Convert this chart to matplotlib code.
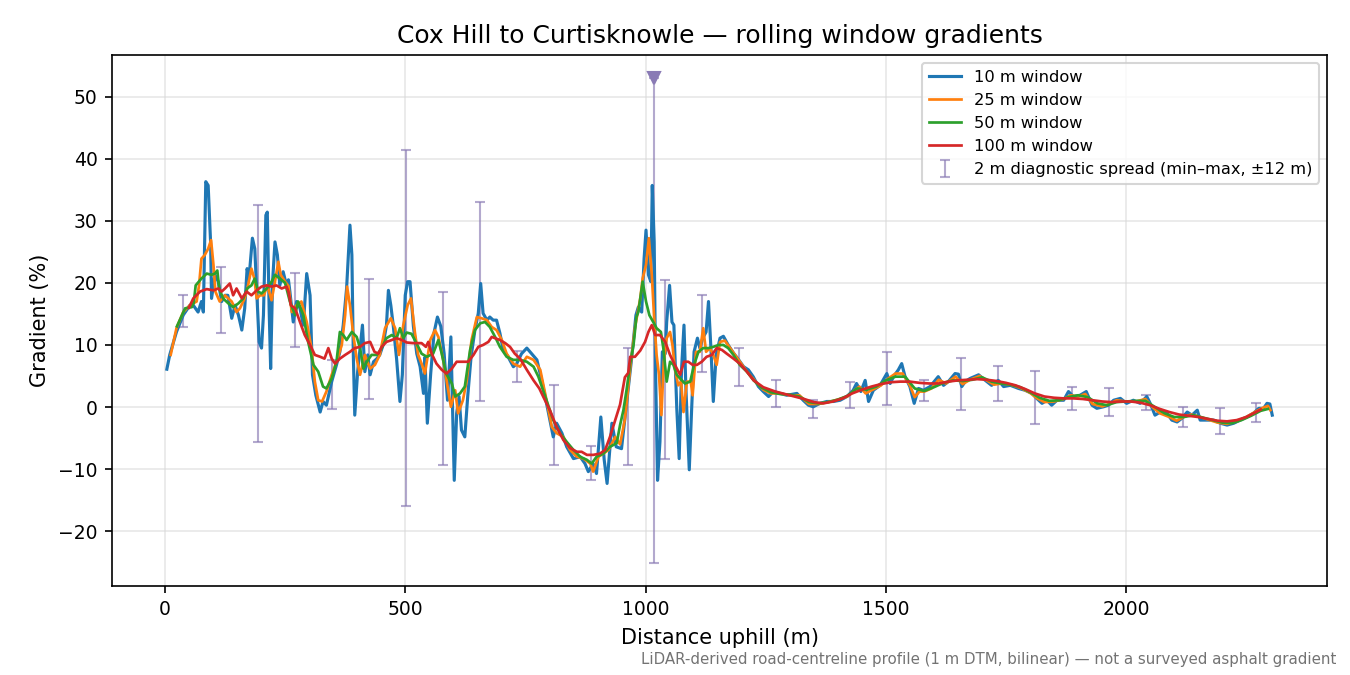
# Rolling-window gradient profile, Cox Hill -> Curtisknowle

import numpy as np
import matplotlib.pyplot as plt

# 10 m window (distance m, gradient %)
d10 = [4, 10, 24, 38, 52, 59, 69, 76, 80, 85, 90, 95, 97, 104, 111, 118, 125, 131, 139, 146,
       153, 160, 166, 171, 175, 182, 187, 191, 196, 201, 205, 210, 213, 217, 220, 224, 229, 234,
       239, 246, 253, 257, 260, 267, 274, 281, 288, 295, 302, 307, 314, 323, 329, 336, 347, 357,
       364, 371, 378, 385, 389, 392, 395, 401, 406, 411, 416, 422, 427, 434, 441, 447, 454, 461,
       465, 470, 475, 482, 489, 494, 500, 505, 510, 517, 524, 531, 538, 541, 546, 553, 560, 567,
       574, 581, 588, 595, 599, 602, 607, 612, 617, 624, 630, 637, 645, 652, 657, 662, 670, 676,
       683, 690, 697, 704, 714, 725, 732, 742, 753, 763, 774, 784, 794, 805, 808, 815, 826, 836,
       850, 864, 874, 881, 891, 898, 907, 914, 920, 930, 939, 950, 961, 971, 980, 985, 992, 997,
       1001, 1006, 1011, 1014, 1018, 1021, 1025, 1030, 1035, 1041, 1044, 1050, 1055, 1059, 1065,
       1070, 1075, 1080, 1084, 1091, 1096, 1101, 1108, 1113, 1119, 1126, 1131, 1136, 1141, 1147,
       1155, 1162, 1172, 1183, 1193, 1204, 1214, 1224, 1235, 1245, 1256, 1266, 1280, 1294, 1315,
       1328, 1339, 1349, 1363, 1377, 1391, 1405, 1419, 1432, 1439, 1448, 1457, 1464, 1474, 1488,
       1502, 1509, 1516, 1526, 1533, 1540, 1550, 1559, 1568, 1578, 1592, 1609, 1620, 1630, 1644,
       1651, 1658, 1665, 1675, 1693, 1707, 1720, 1734, 1745, 1759, 1776, 1790, 1804, 1814, 1825,
       1835, 1845, 1856, 1870, 1880, 1890, 1904, 1917, 1929, 1939, 1953, 1963, 1974, 1988, 2001,
       2015, 2029, 2043, 2050, 2060, 2071, 2085, 2095, 2106, 2116, 2127, 2137, 2148, 2154, 2168,
       2182, 2196, 2210, 2224, 2237, 2251, 2265, 2276, 2286, 2293, 2299, 2304]
g10 = [6.1, 8.4, 12.1, 14.8, 16.4, 16.4, 15.3, 17, 15.3, 36.3, 35.7, 26.6, 17.5, 21.3, 20.2, 17,
       18, 18, 14.3, 16.4, 14.8, 12.4, 15.9, 22.3, 20.8, 27.2, 25.5, 18.6, 10.5, 9.5, 14.8, 30.9,
       31.4, 15.3, 6.2, 20.2, 26.6, 24.5, 19.6, 21.8, 19.6, 20.5, 18.6, 13.7, 17, 15.9, 13.2, 21.5,
       18, 5.2, 1.9, -0.8, 0.9, 0.3, 4.1, 6.8, 8.9, 13.2, 19.1, 29.3, 24.5, 8.4, -1.3, 5.7, 9.5,
       13.2, 5.7, 8.4, 5.2, 7.3, 7.8, 8.4, 10, 13.2, 18.8, 16.4, 13.2, 7.8, 0.9, 5.2, 18, 20.2,
       20.2, 13, 8.6, 6.5, 2.2, 8, -2.6, 5.4, 12, 14.5, 13, 8.6, 1.1, 11.3, -2.1, -11.8, -1, 1.7,
       -3.7, -4.8, 1.7, 8.1, 12.4, 15.1, 19.9, 15.1, 14, 14.5, 14, 14, 11.9, 9.2, 8.1, 6.5, 7, 8.6,
       9.5, 8.6, 7.6, 4.3, 0.6, -3.7, -4.8, -2.6, -4.2, -6.4, -8.3, -8, -9.1, -10.4, -9.1, -10.7,
       -1.6, -8.5, -12.3, -2.6, -6.4, -6.7, 0.9, 7.8, 14.8, 16.1, 15.3, 23.9, 28.5, 21.3, 20.2,
       35.7, 26.6, 5.2, -11.8, -5.6, 8.9, 8.6, 13.7, 19.6, 13.7, 13.2, -0.2, -8.3, 6.2, 13.2, 3,
       -10.1, -0.2, 8.9, 11.1, 9.5, 11.1, 12.1, 17, 9.5, 0.9, 8.4, 11.1, 11.4, 10, 8.7, 7.7, 6.5,
       6, 4.9, 3.3, 2.5, 1.7, 2.5, 2.2, 1.9, 2.2, 1.1, 0.3, 0.05, 0.6, 0.9, 0.9, 1.1, 1.7, 2.7,
       3.8, 2.5, 4.3, 0.9, 2.7, 3.5, 5.4, 3.8, 4.9, 6, 7, 4.9, 3.3, 0.6, 3, 2.7, 3.3, 4.9, 3.5,
       4.1, 5.4, 5.3, 3.3, 4.1, 4.6, 5.2, 4.3, 3.5, 4.3, 3.3, 3.5, 3, 2.7, 2.2, 1.4, 0.6, 1.1, 0.3,
       1.1, 1.1, 2.5, 1.7, 1.9, 2.5, 0.3, -0.2, 0.05, 0.3, 1.1, 1.4, 0.6, 1.1, 0.6, 1.7, 0.6,
       -1.3, -0.8, -1, -2.1, -2.4, -1.8, -0.8, -1.3, -0.5, -2.1, -2.1, -2.1, -2.6, -2.9, -2.6,
       -2.1, -1.6, -1, -0.2, -0.2, 0.6, 0.5, -1.3]

# 25 m window
d25 = [12, 24, 38, 52, 66, 71, 76, 83, 90, 96, 101, 105, 114, 125, 139, 149, 156, 166, 173, 180,
       186, 191, 198, 206, 213, 222, 229, 236, 241, 250, 257, 264, 274, 284, 295, 305, 312, 319,
       327, 336, 347, 357, 368, 375, 379, 385, 392, 399, 406, 416, 427, 437, 447, 458, 470, 479,
       487, 496, 505, 512, 520, 527, 534, 541, 552, 562, 569, 579, 586, 595, 604, 610, 620, 628,
       638, 649, 659, 670, 680, 690, 701, 711, 725, 739, 753, 767, 781, 794, 805, 815, 829, 843,
       857, 871, 885, 891, 902, 912, 923, 937, 947, 957, 968, 978, 989, 994, 1001, 1007, 1013,
       1018, 1023, 1028, 1033, 1038, 1044, 1051, 1056, 1061, 1068, 1074, 1079, 1086, 1094, 1098,
       1105, 1113, 1120, 1126, 1134, 1141, 1148, 1155, 1165, 1176, 1186, 1196, 1211, 1230, 1245,
       1260, 1280, 1300, 1320, 1340, 1360, 1380, 1400, 1420, 1435, 1445, 1458, 1470, 1490, 1505,
       1520, 1535, 1550, 1560, 1570, 1580, 1595, 1610, 1625, 1645, 1660, 1675, 1695, 1710, 1725,
       1740, 1760, 1780, 1800, 1815, 1830, 1850, 1870, 1885, 1900, 1915, 1930, 1950, 1965, 1980,
       2000, 2020, 2040, 2055, 2070, 2090, 2105, 2120, 2135, 2150, 2170, 2190, 2210, 2230, 2250,
       2270, 2285, 2295, 2300]
g25 = [8.4, 12.7, 15.3, 16.4, 17, 19.6, 23.9, 24.5, 25.5, 26.9, 22.9, 18.6, 17, 18, 17, 15.3,
       15.9, 17.5, 19.6, 22.3, 20.7, 17.5, 18, 18, 19.6, 17.2, 20.2, 23.4, 21.3, 20.2, 19.5, 15.3,
       16.4, 17, 13.7, 9.5, 4.1, 1.1, 0.9, 2.5, 5.2, 7.3, 10, 14.8, 19.4, 16.4, 11.6, 7.8, 5.2,
       8.4, 6.2, 6.8, 8.4, 12.7, 14.3, 12.7, 8.4, 13.2, 16.4, 17.5, 12.1, 8.4, 7, 5.4, 10.8, 12.4,
       11.3, 7.6, 4.3, 0.05, 2.7, -1, 1.1, 4.3, 10.8, 14.5, 14.3, 14, 12.9, 12.4, 10.8, 8.6, 7,
       6.5, 8.1, 7.6, 6, 1.1, -3.2, -4.2, -4.8, -6.9, -8, -8.3, -9.1, -10.4, -8, -7.5, -6.9, -4.8,
       -6, -2, 6.2, 12.8, 17.5, 20.7, 22.9, 27.2, 21.3, 14.3, 8.4, 5.2, -1.3, 7.3, 11.1, 12.1, 10,
       6.2, 3.5, 4.1, -0.8, 4.1, 4.1, 1.9, 8.9, 8.9, 12.7, 8.9, 9.5, 8.4, 6.8, 10.5, 10.7, 9.5,
       8.4, 7.3, 5.7, 4, 2.8, 2.2, 2.2, 1.9, 1.9, 0.5, 0.5, 0.8, 1.2, 1.7, 2.7, 3.3, 2.2, 2.7,
       3.5, 4.6, 5.4, 5.4, 3.5, 1.6, 2.5, 2.5, 3, 4.4, 3.8, 4.9, 3.7, 4.4, 5, 4.3, 3.6, 3.8, 3.6,
       3.1, 2.3, 1.4, 0.8, 0.9, 1.3, 1.9, 1.7, 2.1, 0.5, 0.1, 0.5, 1.1, 0.9, 0.9, 1.3, 0, -1, -1.6,
       -2.2, -1.6, -1.2, -1.5, -2, -2.5, -2.7, -2.3, -1.6, -0.7, -0.1, 0.2, -0.5]

# 50 m window
d50 = [25, 42, 56, 60, 64, 76, 87, 97, 104, 109, 113, 121, 132, 142, 153, 163, 171, 180, 187,
       194, 201, 212, 222, 229, 239, 250, 260, 271, 277, 288, 298, 309, 319, 329, 336, 347, 357,
       364, 371, 378, 389, 399, 406, 413, 420, 430, 441, 451, 461, 472, 482, 489, 496, 503, 513,
       524, 534, 545, 558, 569, 576, 585, 597, 604, 614, 624, 635, 645, 656, 666, 676, 687, 697,
       711, 725, 739, 753, 767, 777, 794, 808, 822, 836, 850, 864, 878, 888, 898, 912, 926, 940,
       947, 954, 961, 968, 975, 981, 985, 994, 1001, 1008, 1016, 1023, 1032, 1037, 1044, 1051,
       1058, 1065, 1072, 1082, 1093, 1101, 1110, 1120, 1131, 1141, 1152, 1162, 1172, 1183, 1196,
       1211, 1225, 1240, 1260, 1280, 1300, 1320, 1340, 1360, 1380, 1400, 1420, 1440, 1460, 1480,
       1500, 1520, 1540, 1560, 1580, 1600, 1620, 1640, 1660, 1680, 1700, 1720, 1740, 1760, 1780,
       1800, 1820, 1840, 1860, 1880, 1900, 1920, 1940, 1960, 1980, 2000, 2020, 2040, 2060, 2080,
       2100, 2120, 2140, 2160, 2180, 2200, 2220, 2240, 2260, 2280, 2295]
g50 = [13, 15.9, 16.1, 16.8, 19.6, 20.7, 21.5, 21.3, 21.5, 22, 19.1, 17.5, 16.7, 16.1, 16.7,
       17.5, 19.1, 19.6, 20.7, 18.6, 18.3, 19.1, 20.2, 21.3, 20.7, 20, 17, 14.8, 17, 14.8, 10.5,
       6.8, 5.7, 3.3, 3, 4.6, 7.3, 12.1, 11.6, 10.8, 12.1, 11.3, 9.5, 6.2, 7.3, 8.4, 8.4, 9.5,
       11.1, 11.6, 11.1, 12.7, 11.1, 12, 11.8, 10.2, 8.6, 8.1, 8.6, 10.8, 8.6, 5.4, 3.8, 1.7, 2.2,
       3.3, 9.2, 12.4, 13.5, 13.7, 12.9, 11.3, 9.7, 8.1, 7.6, 7.6, 7.3, 6.5, 4.9, 1.1, -2.1, -4.2,
       -5.6, -6.9, -8, -8.5, -9.1, -8, -7.5, -6.4, -5.8, -2.9, -0.5, 3, 7, 10, 14.5, 15.3, 20.2,
       17, 14.8, 13.7, 12.7, 12.1, 9.5, 4.1, 7.3, 6.8, 5.2, 4.6, 3.8, 4.1, 6.8, 8.9, 9.5, 9.5,
       9.7, 10, 10, 9.5, 8.4, 6.8, 5.7, 4.3, 3.2, 2.4, 2.1, 2, 1.7, 0.8, 0.6, 0.8, 1.2, 1.8, 3,
       2.8, 3.3, 4.3, 4.9, 4.9, 3, 2.6, 3.2, 3.9, 4.3, 4.2, 4.4, 4.8, 4.1, 3.8, 3.6, 3.2, 2.4,
       1.5, 1, 1.1, 1.6, 1.9, 1.6, 0.6, 0.3, 0.8, 0.9, 1, 1, 0, -1, -1.6, -1.6, -1.3, -1.7, -2.1,
       -2.5, -2.6, -2.1, -1.4, -0.6, -0.3]

# 100 m window
d100 = [50, 59, 73, 87, 101, 111, 118, 125, 135, 142, 149, 160, 170, 180, 191, 201, 212, 222,
        232, 243, 253, 257, 262, 271, 281, 291, 302, 312, 323, 332, 340, 347, 354, 364, 375, 385,
        395, 406, 416, 427, 436, 444, 451, 461, 472, 482, 493, 503, 517, 534, 543, 548, 555, 565,
        576, 586, 597, 607, 617, 631, 642, 652, 662, 673, 680, 687, 697, 708, 718, 728, 739, 753,
        767, 779, 787, 801, 815, 829, 843, 857, 867, 878, 891, 905, 916, 926, 937, 947, 957, 964,
        968, 978, 989, 999, 1006, 1013, 1020, 1030, 1041, 1051, 1061, 1072, 1080, 1089, 1098,
        1107, 1117, 1127, 1138, 1148, 1159, 1169, 1183, 1196, 1211, 1225, 1245, 1270, 1290, 1310,
        1330, 1350, 1370, 1390, 1410, 1430, 1450, 1470, 1490, 1510, 1530, 1550, 1570, 1590, 1610,
        1630, 1650, 1670, 1690, 1710, 1730, 1750, 1770, 1790, 1810, 1830, 1850, 1870, 1890, 1910,
        1930, 1950, 1970, 1990, 2010, 2030, 2050, 2070, 2090, 2110, 2130, 2150, 2170, 2190, 2210,
        2230, 2250, 2265, 2280]
g100 = [16, 17.5, 18.6, 19, 18.8, 19.1, 18.6, 19.1, 19.9, 18, 19.1, 17.5, 18.6, 18, 18.8, 19.4,
        19.6, 19.4, 19.6, 19.1, 19.4, 18.6, 16.4, 15.9, 13.7, 11.6, 10, 8.4, 8.1, 7.8, 9.5, 7.8,
        7, 7.8, 8.4, 8.9, 9.5, 9.7, 10.3, 10.5, 8.9, 8.6, 9.7, 10.5, 10.8, 11.1, 10.8, 10.4, 10.3,
        10.3, 9.7, 10.5, 8.6, 7, 6, 5.4, 6.2, 7.3, 7.3, 7.3, 8.4, 9.7, 10, 10.5, 11.3, 11.1, 10.8,
        10.3, 9.7, 8.6, 7.8, 6, 4.3, 3, 1.7, -0.5, -3.2, -5.3, -6.6, -7.2, -7.2, -7.7, -7.7, -7.5,
        -6.9, -4.8, -2.1, 0.4, 4.8, 5.5, 8.1, 8.1, 9.1, 10.5, 12.1, 13.2, 11.6, 11.6, 10.5, 8.4,
        6.8, 5.2, 7.3, 7.3, 6.8, 6.8, 7.3, 8.1, 8.4, 9.5, 9.2, 8.6, 7.8, 7, 5.7, 4.3, 3.2, 2.5,
        2.1, 1.7, 1.3, 0.8, 0.6, 0.9, 1.4, 2.2, 2.8, 3.3, 3.7, 4, 4.1, 4.1, 3.9, 3.8, 3.8, 4.1,
        4.3, 4.4, 4.5, 4.4, 4.2, 3.9, 3.5, 2.9, 2.2, 1.7, 1.5, 1.4, 1.4, 1.3, 1.1, 0.9, 0.8, 0.9,
        0.9, 0.7, 0.3, -0.3, -0.8, -1.2, -1.4, -1.6, -1.9, -2.2, -2.3, -2.1, -1.6, -1, -0.4]

# 2 m diagnostic spread (min / max within +-12 m)
spread_x = [38, 116, 193, 270, 347, 424, 502, 579, 656, 733, 810, 887, 964, 1041, 1118, 1195,
            1272, 1349, 1426, 1502, 1580, 1656, 1733, 1810, 1887, 1965, 2042, 2119, 2196, 2271]
spread_lo = [12.9, 12.0, -5.6, 9.6, -0.3, 1.3, -15.9, -9.3, 1.0, 4.1, -9.3, -11.8, -9.3, -8.3,
             5.7, 3.4, -0.05, -1.7, -0.1, 0.4, 1.0, -0.4, 1.0, -2.7, -0.4, -1.4, -0.4, -3.2,
             -4.3, -2.4]
spread_hi = [18.0, 22.6, 32.6, 21.6, 7.6, 20.7, 41.4, 18.5, 33.1, 9.0, 3.5, -6.3, 9.5, 20.5,
             18.1, 9.5, 4.35, 1.2, 4.1, 8.9, 4.35, 7.9, 6.6, 5.8, 3.2, 3.1, 2.0, 0.05, -0.1, 0.7]

# steepest point, spread clipped at the top of the axes
peak_x = 1018
peak_lo = -25.1
peak_hi = 53.0

spread_col = '#8a7bb5'

fig = plt.figure(figsize=(9, 4.5), dpi=150)
ax = fig.add_axes([0.083, 0.132, 0.9, 0.7865])

lo = np.array(spread_lo)
hi = np.array(spread_hi)
mid = (lo + hi) / 2
ax.errorbar(spread_x, mid, yerr=[mid - lo, hi - mid], fmt='none', ecolor=spread_col,
            elinewidth=1.0, capsize=2.2, capthick=1.0, alpha=0.65, zorder=1,
            label='2 m diagnostic spread (min\u2013max, \u00b112 m)')
pm = (peak_lo + peak_hi) / 2
ax.errorbar([peak_x], [pm], yerr=[[pm - peak_lo], [peak_hi - pm]], fmt='none',
            ecolor=spread_col, elinewidth=1.0, capsize=2.2, capthick=1.0, alpha=0.65, zorder=1)
ax.plot([peak_x], [peak_hi], marker='v', markersize=6, color=spread_col, linestyle='none',
        zorder=3)

ax.plot(d10, g10, color='#1f77b4', lw=1.5, label='10 m window', zorder=2)
ax.plot(d25, g25, color='#ff7f0e', lw=1.3, label='25 m window', zorder=2)
ax.plot(d50, g50, color='#2ca02c', lw=1.3, label='50 m window', zorder=2)
ax.plot(d100, g100, color='#d62728', lw=1.3, label='100 m window', zorder=2)

ax.set_xlim(-110, 2418)
ax.set_ylim(-28.8, 56.7)
ax.set_xticks([0, 500, 1000, 1500, 2000])
ax.set_yticks(np.arange(-20, 51, 10))
ax.tick_params(labelsize=9)
ax.grid(True, color='0.85', linewidth=0.8, alpha=0.6)
ax.set_axisbelow(True)

ax.set_xlabel('Distance uphill (m)', fontsize=10)
ax.set_ylabel('Gradient (%)', fontsize=10)
ax.set_title('Cox Hill to Curtisknowle \u2014 rolling window gradients', fontsize=12)

ax.legend(loc='upper right', fontsize=7.8)

fig.text(0.99, 0.012, 'LiDAR-derived road-centreline profile (1 m DTM, bilinear) \u2014 '
         'not a surveyed asphalt gradient', ha='right', va='bottom', fontsize=7.2, color='0.45')

plt.savefig('out.png', dpi=150)
